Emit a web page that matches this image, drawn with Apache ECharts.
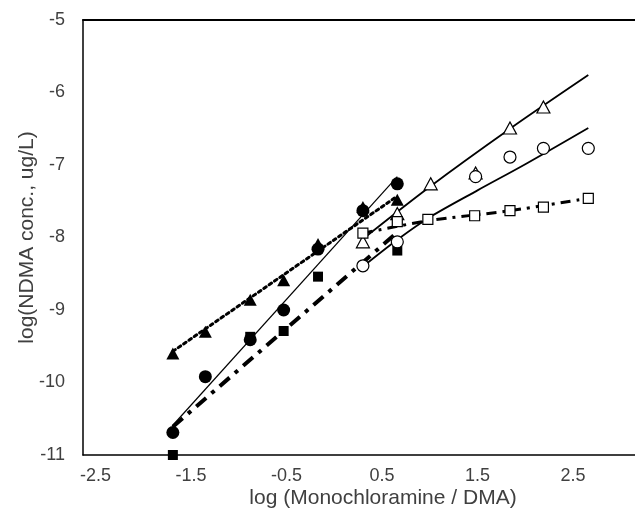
<!DOCTYPE html>
<html>
<head>
<meta charset="utf-8">
<script src="https://cdn.jsdelivr.net/npm/echarts@6/dist/echarts.min.js"></script>
<style>html,body{margin:0;padding:0;background:#fff}#c{width:635px;height:512px}</style>
</head>
<body>
<div id="c"></div>
<script>
// ---- data ----
var xTickLabels = [-2.5, -1.5, -0.5, 0.5, 1.5, 2.5];
var yTickLabels = [-11, -10, -9, -8, -7, -6, -5];

// filled triangles (low ratio)
var triFilledX = [-1.69, -1.35, -0.88, -0.53, -0.17, 0.30, 0.66];
var triFilledY = [-9.60, -9.30, -8.86, -8.59, -8.09, -7.58, -7.48];
// filled circles
var cirFilledX = [-1.69, -1.35, -0.88, -0.53, -0.17, 0.30, 0.66];
var cirFilledY = [-10.69, -9.92, -9.41, -9.00, -8.16, -7.63, -7.26];
// filled squares
var sqFilledX = [-1.69, -0.88, -0.53, -0.17, 0.66];
var sqFilledY = [-11.00, -9.37, -9.29, -8.54, -8.18];
// open triangles (high ratio)
var triOpenX = [0.30, 0.66, 1.01, 1.48, 1.84, 2.19];
var triOpenY = [-8.06, -7.67, -7.26, -7.11, -6.49, -6.20];
// open circles
var cirOpenX = [0.30, 0.66, 1.48, 1.84, 2.19, 2.66];
var cirOpenY = [-8.39, -8.06, -7.16, -6.89, -6.77, -6.77];
// open squares
var sqOpenX = [0.30, 0.66, 0.98, 1.47, 1.84, 2.19, 2.66];
var sqOpenY = [-7.94, -7.78, -7.75, -7.70, -7.63, -7.58, -7.46];

// trend lines
var fitTriFilledX = [-1.69, 0.66];
var fitTriFilledY = [-9.57, -7.43];
var fitCirFilledX = [-1.69, 0.66];
var fitCirFilledY = [-10.59, -7.16];
var fitSqFilledX  = [-1.69, 0.66];
var fitSqFilledY  = [-10.61, -7.93];
var fitTriOpenX   = [0.30, 0.98, 1.84, 2.66];
var fitTriOpenY   = [-8.02, -7.32, -6.50, -5.76];
var fitCirOpenX   = [0.30, 0.66, 1.00, 1.50, 2.00, 2.66];
var fitCirOpenY   = [-8.40, -8.03, -7.72, -7.35, -6.99, -6.49];
var fitSqOpenX    = [0.30, 0.98, 1.84, 2.66];
var fitSqOpenY    = [-7.94, -7.77, -7.63, -7.46];

var xTitle = 'log (Monochloramine / DMA)';
var yTitle = 'log(NDMA conc., ug/L)';

function pairs(xs, ys) { return xs.map(function (x, i) { return [x, ys[i]]; }); }

var FONT = '"Liberation Sans", Arial, sans-serif';
var TXT = '#404040';

function lineSeries(xs, ys, width, type, cap) {
  return {
    type: 'line', data: pairs(xs, ys), showSymbol: false, symbol: 'none',
    smooth: xs.length > 2 ? 0.3 : false,
    lineStyle: { color: '#000', width: width, type: type, cap: cap || 'butt', opacity: 1 },
    z: 2, silent: true, animation: false
  };
}
function markSeries(xs, ys, symbol, size, filled) {
  return {
    type: 'scatter', data: pairs(xs, ys), symbol: symbol, symbolSize: size,
    itemStyle: filled ? { color: '#000', opacity: 1 }
                      : { color: '#fff', borderColor: '#000', borderWidth: 1.2, opacity: 1 },
    z: 5, silent: true, animation: false
  };
}

var chart = echarts.init(document.getElementById('c'), null, { renderer: 'canvas' });
chart.setOption({
  animation: false,
  backgroundColor: '#fff',
  grid: { left: 83, right: 0, top: 20, bottom: 57, containLabel: false, outerBoundsMode: 'none' },
  xAxis: [{
    type: 'value', min: -2.631, max: 3.149,
    axisLine: { show: true, onZero: false, lineStyle: { color: '#000', width: 1.5 } },
    axisTick: { show: false },
    splitLine: { show: false },
    axisLabel: { customValues: xTickLabels, formatter: function (v) { return String(v); },
      color: TXT, fontSize: 18, fontFamily: FONT, margin: 12 },
    name: xTitle, nameLocation: 'middle', nameGap: 33, nameMoveOverlap: false,
    nameTextStyle: { color: TXT, fontSize: 21, fontFamily: FONT, padding: [0, 0, 0, 48] }
  }, {
    type: 'value', position: 'top', min: -2.631, max: 3.149,
    axisLine: { show: true, lineStyle: { color: '#000', width: 2 } },
    axisTick: { show: false }, axisLabel: { show: false }, splitLine: { show: false }
  }],
  yAxis: {
    type: 'value', min: -11, max: -5, interval: 1,
    axisLine: { show: true, onZero: false, lineStyle: { color: '#000', width: 1.5 } },
    axisTick: { show: false },
    splitLine: { show: false },
    axisLabel: { customValues: yTickLabels, color: TXT, fontSize: 18, fontFamily: FONT, margin: 18 },
    name: yTitle, nameLocation: 'middle', nameGap: 45, nameMoveOverlap: false,
    nameTextStyle: { color: TXT, fontSize: 21, fontFamily: FONT }
  },
  series: [
    lineSeries(fitTriFilledX, fitTriFilledY, 3, [3, 3.5], 'round'),
    lineSeries(fitCirFilledX, fitCirFilledY, 1.2, 'solid'),
    lineSeries(fitSqFilledX, fitSqFilledY, 4, [13, 7, 4, 7]),
    lineSeries(fitTriOpenX, fitTriOpenY, 1.8, 'solid'),
    lineSeries(fitCirOpenX, fitCirOpenY, 1.8, 'solid'),
    lineSeries(fitSqOpenX, fitSqOpenY, 3, [10, 6, 3, 6]),
    markSeries(sqFilledX, sqFilledY, 'rect', 10, true),
    markSeries(triFilledX, triFilledY, 'triangle', [13, 12], true),
    markSeries(cirFilledX, cirFilledY, 'circle', 13, true),
    markSeries(triOpenX, triOpenY, 'triangle', [13, 12], false),
    markSeries(sqOpenX, sqOpenY, 'rect', 10, false),
    markSeries(cirOpenX, cirOpenY, 'circle', 12, false)
  ]
});
</script>
</body>
</html>
